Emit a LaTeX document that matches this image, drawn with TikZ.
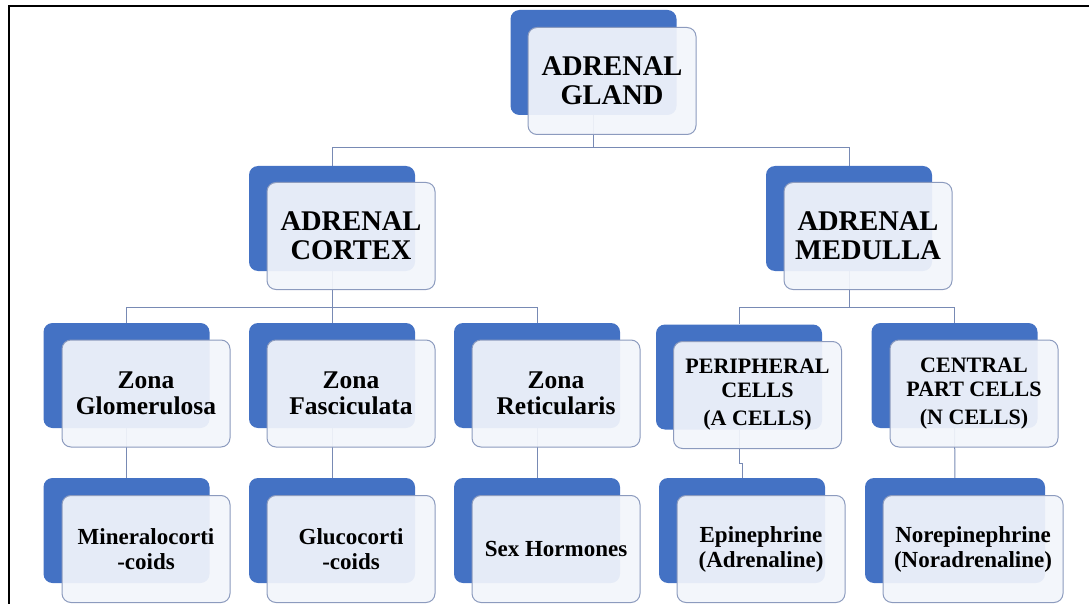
\documentclass[tikz,border=0pt]{standalone}
\usepackage{fontspec}
\setmainfont{Liberation Serif}
\usetikzlibrary{backgrounds}

\definecolor{boxblue}{RGB}{68,114,196}
\definecolor{frontfill}{RGB}{242,245,251}
\definecolor{frontline}{RGB}{140,155,190}
\definecolor{linkline}{RGB}{120,138,180}

\begin{document}
\begin{tikzpicture}[x=1pt,y=-1pt,
    back/.style={fill=boxblue, rounded corners=9pt, minimum width=166pt, minimum height=105pt, inner sep=0pt},
    front/.style={fill=frontfill, fill opacity=0.93, text opacity=1, draw=frontline, line width=1pt,
        rounded corners=9pt, minimum width=168pt, minimum height=107pt, inner sep=0pt, align=center},
    bigtext/.style={font=\fontsize{28.5}{29}\selectfont\bfseries},
    midtext/.style={font=\fontsize{25.5}{26}\selectfont\bfseries},
    celltext/.style={font=\fontsize{22}{24}\selectfont\bfseries},
    smalltext/.style={font=\fontsize{23}{25}\selectfont\bfseries},
    link/.style={draw=linkline, line width=1pt}]
    \useasboundingbox (0,0) rectangle (1089,604);

    % frame
    \draw[line width=2pt] (8,6) -- (1089,6);
    \draw[line width=2pt] (8.5,6) -- (8.5,604);

    % top
    \node[back] (glandbk) at (593.5,62.5) {};
    \node[front, bigtext] (gland) at (612,81) {ADRENAL\\GLAND};

    % second row
    \node[back] (cortexbk) at (332,218.5) {};
    \node[front, bigtext] (cortex) at (351,236) {ADRENAL\\CORTEX};
    \node[back] (medullabk) at (849,218.5) {};
    \node[front, bigtext] (medulla) at (868,236) {ADRENAL\\MEDULLA};

    % third row
    \node[back] (glombk) at (126.5,375.5) {};
    \node[front, midtext] (glom) at (146,393.5) {Zona\\Glomerulosa};
    \node[back] (fascbk) at (332,375.5) {};
    \node[front, midtext] (fasc) at (351,393.5) {Zona\\Fasciculata};
    \node[back] (reticbk) at (537,375.5) {};
    \node[front, midtext] (retic) at (556,393.5) {Zona\\Reticularis};
    \node[back] (periphbk) at (739,377) {};
    \node[front, celltext] (periph) at (757.5,395) {PERIPHERAL\\CELLS\\[4pt](A CELLS)};
    \node[back] (centralbk) at (954.5,375.5) {};
    \node[front, celltext] (central) at (974,393.5) {CENTRAL\\PART CELLS\\[4pt](N CELLS)};

    % bottom row
    \node[back] (mineralbk) at (126.5,530.5) {};
    \node[front, smalltext] (mineral) at (146,549) {Mineralocorti\\-coids};
    \node[back] (glucobk) at (332,530.5) {};
    \node[front, smalltext] (gluco) at (351,549) {Glucocorti\\-coids};
    \node[back] (sexbk) at (537,530.5) {};
    \node[front, smalltext] (sex) at (556,549) {Sex Hormones};
    \node[back] (epibk) at (742,530.5) {};
    \node[front, smalltext] (epi) at (761,549) {Epinephrine\\(Adrenaline)};
    \node[back, minimum width=180pt] (norepibk) at (955,530.5) {};
    \node[front, smalltext, minimum width=180pt] (norepi) at (973,549) {Norepinephrine\\(Noradrenaline)};

    % connectors
    \coordinate (bus1) at (0,148);
    \coordinate (bus2) at (0,307);
    \coordinate (bus3) at (0,463);
    \begin{scope}[on background layer]
        \draw[link] (glandbk) -- (glandbk |- bus1) -| (cortexbk);
        \draw[link] (glandbk |- bus1) -| (medullabk);
        \draw[link] (cortexbk) -- (cortexbk |- bus2) -| (glombk);
        \draw[link] (cortexbk |- bus2) -| (reticbk);
        \draw[link] (cortexbk |- bus2) -- (fascbk);
        \draw[link] (medullabk) -- (medullabk |- bus2) -| (periphbk);
        \draw[link] (medullabk |- bus2) -| (centralbk);
        \draw[link] (glombk) -- (mineralbk);
        \draw[link] (fascbk) -- (glucobk);
        \draw[link] (reticbk) -- (sexbk);
        \draw[link] (periphbk) -- (periphbk |- bus3) -| (epibk);
        \draw[link] (centralbk) -- (norepibk);
    \end{scope}
\end{tikzpicture}
\end{document}
